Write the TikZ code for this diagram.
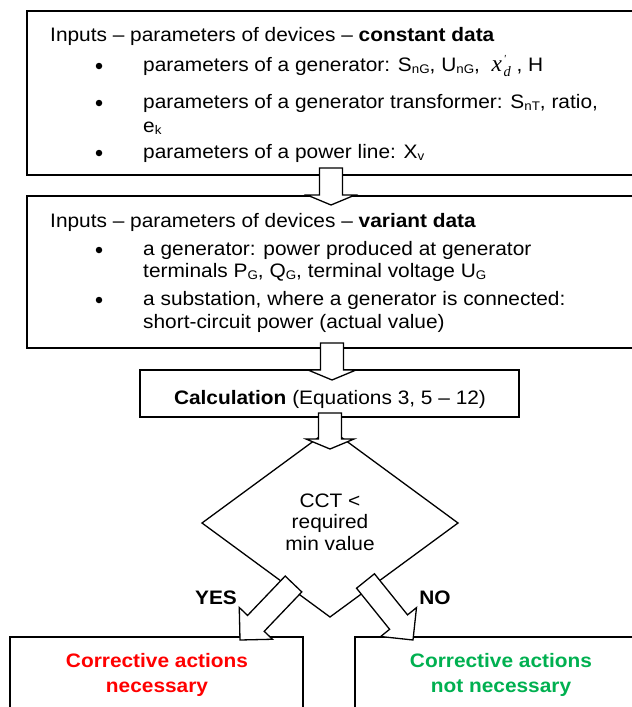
\documentclass[tikz,border=0pt]{standalone}
\usepackage{fontspec}
\setmainfont{Liberation Sans}[FakeStretch=1.07]
\newfontfamily\serifit{Liberation Serif}[Scale=1.2]
\usetikzlibrary{calc,shapes.geometric}
\definecolor{okgreen}{HTML}{00B050}
\definecolor{badred}{HTML}{FF0000}
\newcommand{\lsub}[1]{\raisebox{-2.5pt}{\fontsize{12.5}{12.5}\selectfont #1}}
\newcommand{\xprimed}{{\serifit\itshape x\kern1.5pt\makebox[0pt][l]{\raisebox{9pt}{\fontsize{9}{9}\selectfont '}}\raisebox{-5pt}{\fontsize{12}{12}\selectfont d}}}
\newcommand{\blockarr}[4]{%
  \coordinate (ba-h) at ($(#2)!#3!(#1)$);
  \draw[barrow] ($(#1)!11.5pt!90:(#2)$) -- ($(ba-h)!11.5pt!-90:(#1)$) -- ($(ba-h)!#4!-90:(#1)$) -- (#2) -- ($(ba-h)!#4!90:(#1)$) -- ($(ba-h)!11.5pt!90:(#1)$) -- ($(#1)!11.5pt!-90:(#2)$) -- cycle;
}
\tikzset{
  box/.style={draw, line width=2pt, rectangle, anchor=north west, inner sep=0pt, outer sep=0pt},
  calcbox/.style={draw, line width=1.6pt, rectangle, anchor=north west, inner sep=0pt, outer sep=0pt},
  decision/.style={draw, line width=1.3pt, diamond, inner sep=0pt, outer sep=0pt},
  barrow/.style={draw, fill=white, line width=1.3pt, line join=miter},
  line/.style={anchor=base west, inner sep=0pt},
  cline/.style={anchor=base, inner sep=0pt},
  bul/.style={circle, fill=black, inner sep=0pt, minimum size=6.5pt},
  boldtxt/.style={cline, font=\fontsize{19.5}{22.5}\selectfont\bfseries},
}
\begin{document}
\begin{tikzpicture}[x=1pt,y=-1pt,font=\fontsize{19.5}{22.5}\selectfont]
\useasboundingbox (0,0) rectangle (632,707);
% boxes
\node[box, minimum width=607pt, minimum height=164pt] (b1) at (27,11) {};
\node[box, minimum width=607pt, minimum height=152pt] (b2) at (27,196) {};
\node[calcbox, minimum width=379pt, minimum height=47pt] (b3) at (140,370) {};
\node[decision, minimum width=256pt, minimum height=188pt] (dec) at (330,523) {};
\node[box, minimum width=293pt, minimum height=90pt] (yesbox) at (10,637) {};
\node[box, minimum width=293pt, minimum height=90pt] (nobox) at (355,637) {};
% box 1 text
\node[line] (t1) at (50,41) {Inputs -- parameters of devices -- \textbf{constant data}};
\node[bul] (u1) at (99,66) {};
\node[line] (t2) at (143,71) {parameters of a generator: S\lsub{nG}, U\lsub{nG}, \ \xprimed\ , H};
\node[bul] (u2) at (99,103) {};
\node[line] (t3) at (143,108) {parameters of a generator transformer: S\lsub{nT}, ratio,};
\node[line] (t4) at (143,132) {e\lsub{k}};
\node[bul] (u3) at (99,153) {};
\node[line] (t5) at (143,158) {parameters of a power line: X\lsub{v}};
% box 2 text
\node[line] (s1) at (50,227) {Inputs -- parameters of devices -- \textbf{variant data}};
\node[bul] (v1) at (99,250) {};
\node[line] (s2) at (143,255) {a generator: power produced at generator};
\node[line] (s3) at (143,277) {terminals P\lsub{G}, Q\lsub{G}, terminal voltage U\lsub{G}};
\node[bul] (v2) at (99,300) {};
\node[line] (s4) at (143,305) {a substation, where a generator is connected:};
\node[line] (s5) at (143,328) {short-circuit power (actual value)};
% calc text
\node[cline] (ct) at (330,404) {\textbf{Calculation} (Equations 3, 5 -- 12)};
% decision text
\node[cline] (d1) at (330,507) {CCT <};
\node[cline] (d2) at (330,528) {required};
\node[cline] (d3) at (330,550) {min value};
% yes/no
\node[boldtxt] (yes) at (216,604) {YES};
\node[boldtxt] (no) at (435,604) {NO};
% results
\node[boldtxt, text=badred] (r1) at (157,667) {Corrective actions};
\node[boldtxt, text=badred] (r2) at (157,692) {necessary};
\node[boldtxt, text=okgreen] (g1) at (501,667) {Corrective actions};
\node[boldtxt, text=okgreen] (g2) at (501,692) {not necessary};
% block arrows
\coordinate (a1t) at (331,168); \coordinate (a1h) at (331,205);
\coordinate (a2t) at (332,343); \coordinate (a2h) at (332,380);
\coordinate (a3t) at (330,413); \coordinate (a3h) at (330,449);
\coordinate (ayt) at (293.5,584); \coordinate (ayh) at (240,640);
\coordinate (ant) at (365.5,581); \coordinate (anh) at (413,640);
\blockarr{a1t}{a1h}{10pt}{24pt}
\blockarr{a2t}{a2h}{10pt}{24pt}
\blockarr{a3t}{a3h}{10pt}{24pt}
\blockarr{ayt}{ayh}{23pt}{23pt}
\blockarr{ant}{anh}{23pt}{23pt}
\end{tikzpicture}
\end{document}
